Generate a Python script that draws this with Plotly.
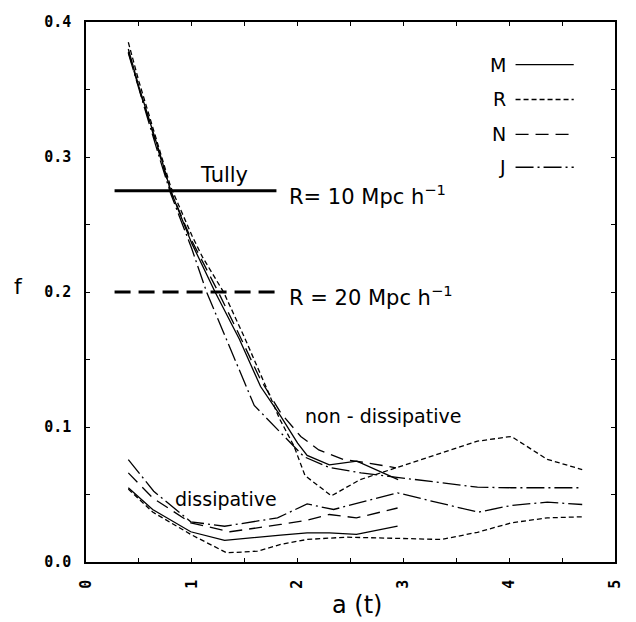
import plotly.graph_objects as go

# ---- non-dissipative runs (upper branch) ----
m_up_a = [0.4, 0.5, 0.6, 0.7, 0.8, 1.0, 1.22, 1.45, 1.65, 1.84, 2.0, 2.09, 2.3, 2.56, 2.95]
m_up_f = [0.380, 0.352, 0.327, 0.302, 0.275, 0.236, 0.200, 0.165, 0.130, 0.108, 0.088, 0.079, 0.072, 0.0747, 0.061]

r_up_a = [0.4, 0.5, 0.6, 0.7, 0.8, 1.0, 1.1, 1.3, 1.5, 1.7, 1.83, 1.965, 2.07, 2.32, 2.59, 2.9, 3.7, 4.02, 4.36, 4.69]
r_up_f = [0.385, 0.356, 0.330, 0.304, 0.278, 0.242, 0.226, 0.200, 0.166, 0.130, 0.106, 0.086, 0.064, 0.049, 0.061, 0.069, 0.0895, 0.093, 0.076, 0.0685]

n_up_a = [0.4, 0.5, 0.6, 0.7, 0.8, 1.0, 1.25, 1.45, 1.65, 1.84, 2.03, 2.2, 2.43, 2.65, 2.93]
n_up_f = [0.378, 0.351, 0.326, 0.300, 0.275, 0.238, 0.200, 0.168, 0.135, 0.1105, 0.093, 0.083, 0.076, 0.0735, 0.0698]

j_up_a = [0.4, 0.5, 0.6, 0.7, 0.8, 1.0, 1.14, 1.3, 1.53, 1.59, 2.06, 2.3, 2.6, 2.95, 3.7, 4.02, 4.69]
j_up_f = [0.377, 0.350, 0.324, 0.298, 0.273, 0.232, 0.200, 0.170, 0.128, 0.116, 0.078, 0.070, 0.066, 0.0625, 0.0554, 0.055, 0.055]

# ---- dissipative runs (lower branch) ----
m_lo_a = [0.4, 0.63, 0.99, 1.31, 1.84, 2.09, 2.3, 2.556, 2.945]
m_lo_f = [0.055, 0.0389, 0.0224, 0.016, 0.0199, 0.0216, 0.0216, 0.0204, 0.0265]

r_lo_a = [0.4, 0.63, 1.0, 1.33, 1.62, 1.84, 2.09, 2.46, 2.95, 3.36, 3.7, 4.02, 4.36, 4.69]
r_lo_f = [0.054, 0.037, 0.020, 0.0068, 0.008, 0.013, 0.0167, 0.0184, 0.0175, 0.0167, 0.022, 0.029, 0.0327, 0.0335]

n_lo_a = [0.4, 0.63, 0.99, 1.36, 1.84, 2.09, 2.3, 2.556, 2.945]
n_lo_f = [0.066, 0.0475, 0.029, 0.0224, 0.0278, 0.031, 0.0352, 0.0327, 0.040]

j_lo_a = [0.4, 0.64, 0.99, 1.31, 1.81, 2.09, 2.34, 2.945, 3.706, 4.02, 4.36, 4.69]
j_lo_f = [0.0759, 0.0524, 0.0298, 0.0265, 0.0327, 0.043, 0.0389, 0.0512, 0.0369, 0.0419, 0.0443, 0.0426]

# ---- observational reference levels (Tully) ----
tully_a = [0.27, 1.8]
tully_10_f = 0.275
tully_20_f = 0.200

# axis ticks
x_tickvals = [0, 1, 2, 3, 4, 5]
x_ticktext = ["0", "1", "2", "3", "4", "5"]
x_minorvals = [0.5, 1.5, 2.5, 3.5, 4.5]
y_tickvals = [0, 0.1, 0.2, 0.3, 0.4]
y_ticktext = ["0.0", "0.1", "0.2", "0.3", "0.4"]
y_minorvals = [0.05, 0.15, 0.25, 0.35]

styles = {
    "M": "solid",
    "R": "5px,3px",
    "N": "13px,7px",
    "J": "18px,4px,2px,4px",
}
series = [
    ("M", m_up_a, m_up_f), ("M", m_lo_a, m_lo_f),
    ("R", r_up_a, r_up_f), ("R", r_lo_a, r_lo_f),
    ("N", n_up_a, n_up_f), ("N", n_lo_a, n_lo_f),
    ("J", j_up_a, j_up_f), ("J", j_lo_a, j_lo_f),
]

fig = go.Figure()
for name, a, f in series:
    fig.add_trace(go.Scatter(
        x=a, y=f, mode="lines", name=name, showlegend=False,
        line=dict(color="black", width=1.3, dash=styles[name]),
    ))

fig.add_trace(go.Scatter(
    x=tully_a, y=[tully_10_f, tully_10_f], mode="lines", showlegend=False,
    line=dict(color="black", width=3),
))
fig.add_trace(go.Scatter(
    x=tully_a, y=[tully_20_f, tully_20_f], mode="lines", showlegend=False,
    line=dict(color="black", width=3, dash="16px,8px"),
))

def font(size):
    return dict(family="DejaVu Sans", size=size, color="black")

annotations = [
    dict(x=1.3, y=0.2865, text="Tully", xanchor="center", yanchor="middle", font=font(21)),
    dict(x=1.9, y=0.272, text="R= 10 Mpc h<sup>−1</sup>", xanchor="left", yanchor="middle", font=font(21)),
    dict(x=1.9, y=0.197, text="R = 20 Mpc h<sup>−1</sup>", xanchor="left", yanchor="middle", font=font(21)),
    dict(x=2.81, y=0.1085, text="non - dissipative", xanchor="center", yanchor="middle", font=font(19)),
    dict(x=1.325, y=0.047, text="dissipative", xanchor="center", yanchor="middle", font=font(19)),
]
for ann in annotations:
    ann.update(xref="x", yref="y", showarrow=False)
    fig.add_annotation(**ann)

# key in the upper-right corner
key_rows = [("M", 0.3685), ("R", 0.3426), ("N", 0.3167), ("J", 0.2924)]
for name, yk in key_rows:
    fig.add_annotation(x=3.99, y=yk, xref="x", yref="y", text=name, showarrow=False,
                       xanchor="right", yanchor="middle", font=font(19))
    fig.add_shape(type="line", xref="x", yref="y", x0=4.06, x1=4.61, y0=yk, y1=yk,
                  line=dict(color="black", width=1.3, dash=styles[name]))

# axis titles
fig.add_annotation(x=-0.127, y=0.51, xref="paper", yref="paper", text="f", showarrow=False,
                   xanchor="center", yanchor="middle", font=font(22))
fig.add_annotation(x=0.513, y=-0.079, xref="paper", yref="paper", text="a (t)", showarrow=False,
                   xanchor="center", yanchor="middle", font=font(24))

tickfont = dict(family="DejaVu Sans Mono", size=15, color="black", weight="bold")
axis_common = dict(
    showgrid=False, zeroline=False, showline=True, linecolor="black", linewidth=1.5,
    mirror="ticks", ticks="inside", ticklen=4, tickwidth=1, tickcolor="black",
    tickfont=tickfont, ticklabelstandoff=10,
)
fig.update_xaxes(range=[0, 5], tickmode="array", tickvals=x_tickvals, ticktext=x_ticktext,
                 tickangle=-90,
                 minor=dict(tickmode="array", tickvals=x_minorvals, ticks="inside",
                            ticklen=4, tickwidth=1, tickcolor="black", showgrid=False),
                 **axis_common)
fig.update_yaxes(range=[0, 0.4], tickmode="array", tickvals=y_tickvals, ticktext=y_ticktext,
                 minor=dict(tickmode="array", tickvals=y_minorvals, ticks="inside",
                            ticklen=4, tickwidth=1, tickcolor="black", showgrid=False),
                 **axis_common)

fig.update_layout(
    width=636, height=622,
    margin=dict(l=86, r=14, t=22, b=60),
    paper_bgcolor="white", plot_bgcolor="white",
)

fig.write_html("out.html")
